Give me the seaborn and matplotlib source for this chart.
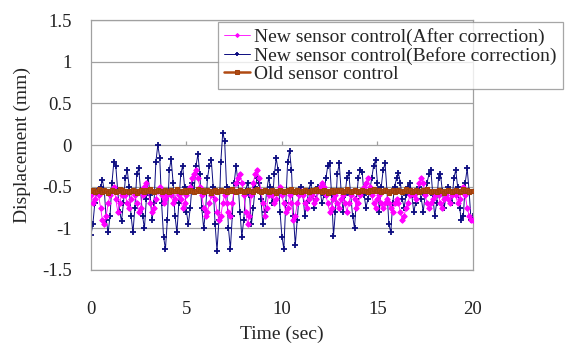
import numpy as np
import pandas as pd
import matplotlib
matplotlib.use("Agg")
import matplotlib.pyplot as plt
import seaborn as sns

# time axis, 0.1 s sampling
time = np.round(np.arange(201) * 0.1, 1)

# New sensor control (After correction)
after_corr = [
    -0.60, -0.70, -0.65, -0.55, -0.60, -0.75, -0.90, -0.95, -0.85, -0.70,
    -0.60, -0.55, -0.50, -0.65, -0.80, -0.70, -0.60, -0.55, -0.60, -0.70,
    -0.75, -0.65, -0.55, -0.60, -0.70, -0.80, -0.75, -0.60, -0.50, -0.45,
    -0.55, -0.70, -0.80, -0.75, -0.65, -0.55, -0.50, -0.60, -0.70, -0.65,
    -0.60, -0.55, -0.60, -0.70, -0.65, -0.55, -0.60, -0.65, -0.75, -0.70,
    -0.60, -0.55, -0.50, -0.40, -0.35, -0.30, -0.40, -0.50, -0.60, -0.75,
    -0.85, -0.80, -0.70, -0.60, -0.55, -0.65, -0.80, -0.90, -0.85, -0.70,
    -0.60, -0.70, -0.80, -0.85, -0.70, -0.55, -0.45, -0.40, -0.35, -0.45,
    -0.60, -0.80, -0.95, -0.85, -0.60, -0.45, -0.35, -0.30, -0.40, -0.55,
    -0.70, -0.85, -0.75, -0.60, -0.55, -0.60, -0.70, -0.65, -0.55, -0.50,
    -0.60, -0.70, -0.80, -0.75, -0.60, -0.70, -0.90, -0.85, -0.70, -0.60,
    -0.55, -0.60, -0.70, -0.75, -0.65, -0.55, -0.60, -0.70, -0.65, -0.55,
    -0.50, -0.45, -0.50, -0.60, -0.70, -0.80, -0.75, -0.65, -0.60, -0.70,
    -0.75, -0.65, -0.60, -0.70, -0.80, -0.70, -0.60, -0.55, -0.65, -0.75,
    -0.70, -0.60, -0.55, -0.50, -0.45, -0.40, -0.50, -0.60, -0.70, -0.75,
    -0.65, -0.60, -0.70, -0.75, -0.70, -0.65, -0.70, -0.75, -0.80, -0.70,
    -0.65, -0.70, -0.80, -0.90, -0.85, -0.75, -0.70, -0.60, -0.55, -0.60,
    -0.65, -0.55, -0.45, -0.40, -0.45, -0.60, -0.70, -0.75, -0.70, -0.65,
    -0.60, -0.55, -0.60, -0.70, -0.75, -0.65, -0.60, -0.65, -0.70, -0.60,
    -0.55, -0.60, -0.70, -0.65, -0.55, -0.50, -0.60, -0.75, -0.85, -0.90,
    -0.90,
]

# New sensor control (Before correction)
before_corr = [
    -1.08, -0.95, -0.70, -0.55, -0.60, -0.50, -0.42, -0.55, -0.90, -1.05,
    -0.85, -0.45, -0.20, -0.25, -0.55, -0.80, -0.91, -0.70, -0.40, -0.30,
    -0.50, -0.85, -1.05, -0.75, -0.35, -0.28, -0.55, -0.85, -1.00, -0.65,
    -0.40, -0.60, -0.90, -0.70, -0.20, 0.00, -0.15, -0.70, -1.10, -1.25,
    -0.90, -0.30, -0.17, -0.45, -0.85, -1.05, -0.70, -0.35, -0.25, -0.50,
    -0.80, -0.95, -0.75, -0.45, -0.55, -0.25, -0.11, -0.35, -0.75, -1.00,
    -0.80, -0.40, -0.25, -0.18, -0.50, -0.95, -1.27, -0.90, -0.20, 0.15,
    0.05, -0.50, -1.00, -1.25, -0.85, -0.45, -0.25, -0.45, -0.80, -1.10,
    -0.90, -0.55, -0.45, -0.60, -0.95, -0.75, -0.50, -0.40, -0.45, -0.65,
    -0.95, -0.80, -0.55, -0.40, -0.50, -0.70, -0.35, -0.16, -0.30, -0.80,
    -1.10, -1.25, -0.70, -0.20, -0.07, -0.30, -0.85, -1.20, -0.90, -0.60,
    -0.50, -0.60, -0.85, -0.70, -0.55, -0.45, -0.60, -0.75, -0.65, -0.50,
    -0.55, -0.70, -0.60, -0.40, -0.25, -0.22, -0.60, -1.09, -0.80, -0.35,
    -0.22, -0.55, -0.80, -0.60, -0.40, -0.34, -0.60, -0.85, -1.00, -0.65,
    -0.40, -0.30, -0.32, -0.60, -0.75, -0.65, -0.55, -0.40, -0.25, -0.18,
    -0.45, -0.80, -0.50, -0.30, -0.22, -0.55, -0.95, -1.05, -0.70, -0.50,
    -0.40, -0.34, -0.45, -0.65, -0.75, -0.60, -0.50, -0.45, -0.60, -0.80,
    -0.70, -0.55, -0.50, -0.65, -0.80, -0.60, -0.45, -0.35, -0.30, -0.60,
    -0.85, -0.70, -0.40, -0.35, -0.55, -0.75, -0.60, -0.50, -0.55, -0.70,
    -0.40, -0.30, -0.50, -0.75, -0.90, -0.85, -0.45, -0.28, -0.55, -0.90,
    -0.85,
]

# Old sensor control
old_ctrl = [
    -0.55, -0.54, -0.56, -0.55, -0.53, -0.55, -0.56, -0.54, -0.55, -0.57,
    -0.55, -0.54, -0.55, -0.56, -0.55, -0.53, -0.54, -0.56, -0.55, -0.55,
    -0.56, -0.55, -0.54, -0.55, -0.57, -0.55, -0.54, -0.55, -0.56, -0.54,
    -0.55, -0.53, -0.55, -0.56, -0.55, -0.54, -0.55, -0.56, -0.55, -0.54,
    -0.55, -0.56, -0.54, -0.55, -0.55, -0.53, -0.55, -0.56, -0.55, -0.54,
    -0.56, -0.55, -0.54, -0.55, -0.56, -0.55, -0.53, -0.55, -0.54, -0.56,
    -0.55, -0.54, -0.55, -0.57, -0.55, -0.54, -0.56, -0.55, -0.54, -0.55,
    -0.55, -0.56, -0.54, -0.55, -0.53, -0.55, -0.56, -0.55, -0.54, -0.55,
    -0.56, -0.55, -0.54, -0.55, -0.55, -0.56, -0.54, -0.53, -0.55, -0.56,
    -0.55, -0.54, -0.55, -0.56, -0.55, -0.54, -0.55, -0.57, -0.55, -0.54,
    -0.55, -0.56, -0.55, -0.54, -0.55, -0.53, -0.55, -0.56, -0.54, -0.55,
    -0.56, -0.55, -0.54, -0.55, -0.56, -0.55, -0.54, -0.55, -0.53, -0.55,
    -0.55, -0.56, -0.54, -0.55, -0.57, -0.55, -0.54, -0.56, -0.55, -0.54,
    -0.55, -0.54, -0.56, -0.55, -0.53, -0.55, -0.56, -0.55, -0.54, -0.55,
    -0.56, -0.55, -0.54, -0.55, -0.55, -0.56, -0.54, -0.55, -0.53, -0.55,
    -0.55, -0.54, -0.56, -0.55, -0.54, -0.55, -0.57, -0.55, -0.54, -0.56,
    -0.55, -0.54, -0.55, -0.56, -0.55, -0.53, -0.55, -0.54, -0.56, -0.55,
    -0.54, -0.55, -0.56, -0.55, -0.54, -0.55, -0.53, -0.55, -0.56, -0.55,
    -0.55, -0.56, -0.54, -0.55, -0.55, -0.57, -0.55, -0.54, -0.55, -0.56,
    -0.55, -0.54, -0.55, -0.56, -0.55, -0.53, -0.55, -0.54, -0.56, -0.55,
    -0.55,
]

labels = ["New sensor control(After correction)",
          "New sensor control(Before correction)",
          "Old sensor control"]
y_ticks = [-1.5, -1, -0.5, 0, 0.5, 1, 1.5]
y_ticklabels = ["-1.5", "-1", "-0.5", "0", "0.5", "1", "1.5"]
x_ticks = [0, 5, 10, 15, 20]

sns.set_style("white")
plt.rcParams['font.family'] = ['Liberation Serif', 'DejaVu Serif']

fig = plt.figure(figsize=(5.65, 3.47), dpi=100)
ax = fig.add_axes([0.161, 0.222, 0.676, 0.720])

grid_c = "#a0a0a0"
for yv in y_ticks:
    ax.axhline(yv, color=grid_c, lw=0.9, zorder=0)

# blue first, pink over it, brown on top
sns.lineplot(x=time, y=before_corr, ax=ax, color="#0c0c80", lw=0.7,
             marker="+", markersize=4.5, markeredgewidth=1.3, mec="#0c0c80",
             estimator=None, label=labels[1], zorder=2)
sns.lineplot(x=time, y=after_corr, ax=ax, color="#ff00ff", lw=0.6,
             marker="D", markersize=2.8, mec="#ff00ff",
             estimator=None, label=labels[0], zorder=3)
sns.lineplot(x=time, y=old_ctrl, ax=ax, color="#b04a12", lw=1.8,
             marker="s", markersize=3.4, mec="#a0400c",
             estimator=None, label=labels[2], zorder=4)

# small tick marks on the zero line (axis crosses at 0)
ax.vlines(x_ticks[1:], 0, 0.045, color=grid_c, lw=0.9, zorder=1)

ax.set_xlim(0, 20)
ax.set_ylim(-1.5, 1.5)
ax.set_xticks(x_ticks)
ax.set_yticks(y_ticks)
ax.set_yticklabels(y_ticklabels)
ax.tick_params(axis="both", length=0, labelsize=13.5, colors="#222222")
ax.tick_params(axis="x", pad=22)
ax.tick_params(axis="y", pad=14)
for s in ax.spines.values():
    s.set_color(grid_c)
    s.set_linewidth(0.9)

ax.set_xlabel("Time (sec)", fontsize=14, labelpad=6)
ax.set_ylabel("Displacement (mm)", fontsize=14, labelpad=8)

handles, labs = ax.get_legend_handles_labels()
order = [labs.index(l) for l in labels]
ax.get_legend().remove()
leg = fig.legend([handles[i] for i in order], labels,
                 loc="upper right", bbox_to_anchor=(0.996, 0.937),
                 fontsize=14, frameon=True, fancybox=False, shadow=False,
                 handlelength=1.3, handletextpad=0.25, labelspacing=0.05,
                 borderpad=0.3, borderaxespad=0.0, markerscale=0.7)
leg.get_frame().set_edgecolor("#909090")
leg.get_frame().set_linewidth(0.9)

fig.savefig("out.png", dpi=100)
